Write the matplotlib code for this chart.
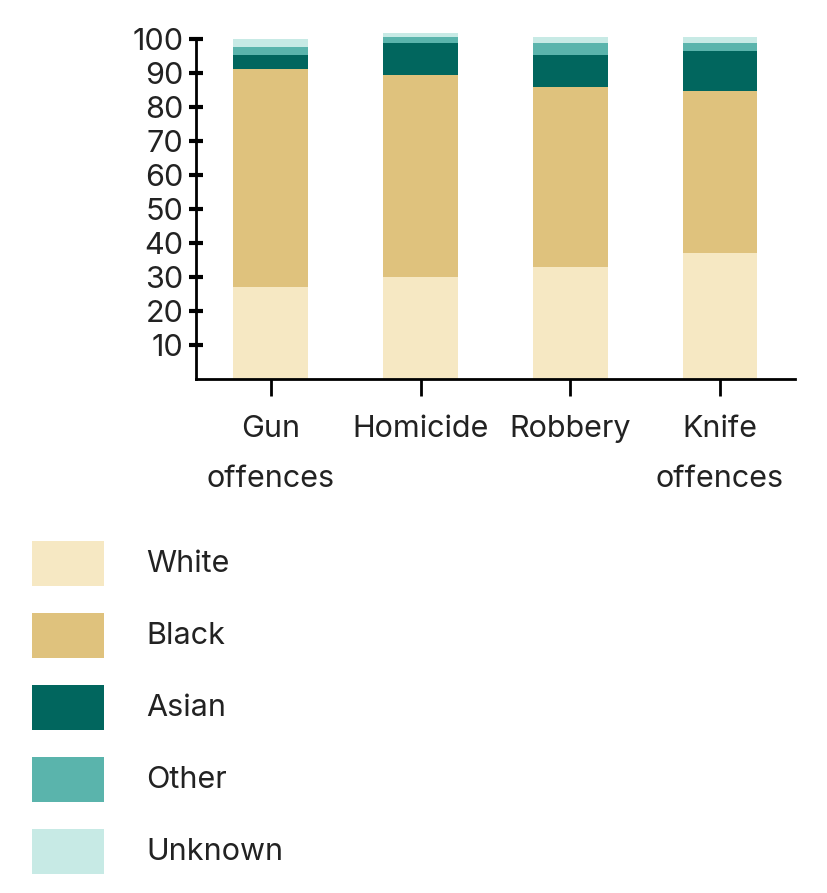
import numpy as np
import matplotlib
matplotlib.use("Agg")
import matplotlib.pyplot as plt
from matplotlib.patches import Rectangle

plt.rcParams['font.family'] = ['Inter', 'DejaVu Sans']

# data (percent of offenders by ethnicity)
offences = ["Gun\noffences", "Homicide", "Robbery", "Knife\noffences"]
groups = ["White", "Black", "Asian", "Other", "Unknown"]
white = [27.0, 29.9, 32.9, 37.0]
black = [64.1, 59.4, 52.9, 47.6]
asian = [4.1, 9.4, 9.4, 11.8]
other = [2.3, 1.8, 3.5, 2.3]
unknown = [2.4, 1.2, 1.8, 1.8]
colors = ["#f6e8c3", "#dfc27d", "#01665e", "#5ab4ac", "#c7eae5"]

series = [white, black, asian, other, unknown]
W, H = 828, 893

fig = plt.figure(figsize=(W / 100, H / 100), dpi=100)
ax = fig.add_axes([0.2367, 0.5759, 0.7233, 0.3884])

x = np.arange(len(offences))
bottom = np.zeros(len(offences))
for vals, col in zip(series, colors):
    ax.bar(x, vals, width=0.5, bottom=bottom, color=col, linewidth=0)
    bottom += np.array(vals)

ax.set_xlim(-0.5, 3.5)
ax.set_ylim(0, 102)
ax.set_yticks(range(10, 101, 10))
ax.set_xticks(x)
ax.set_xticklabels(offences, fontsize=22, color="#222222", linespacing=2.0)
ax.tick_params(axis='y', labelsize=22, labelcolor="#222222", direction='inout',
               length=10, width=3, pad=4)
ax.tick_params(axis='x', direction='out', length=12, width=2, pad=14)

for s in ['top', 'right']:
    ax.spines[s].set_visible(False)
ax.spines['left'].set_bounds(0, 100)
ax.spines['left'].set_linewidth(2)
ax.spines['bottom'].set_linewidth(2)

# legend as key boxes below the chart
for i, (g, c) in enumerate(zip(groups, colors)):
    top = 541 + i * 72
    fig.add_artist(Rectangle((32 / W, 1 - (top + 45) / H), 72 / W, 45 / H,
                             transform=fig.transFigure, facecolor=c,
                             edgecolor='none'))
    fig.text(146 / W, 1 - (top + 23) / H, g, fontsize=22, color="#222222",
             va='center', ha='left')

plt.savefig("out.png", dpi=100)
